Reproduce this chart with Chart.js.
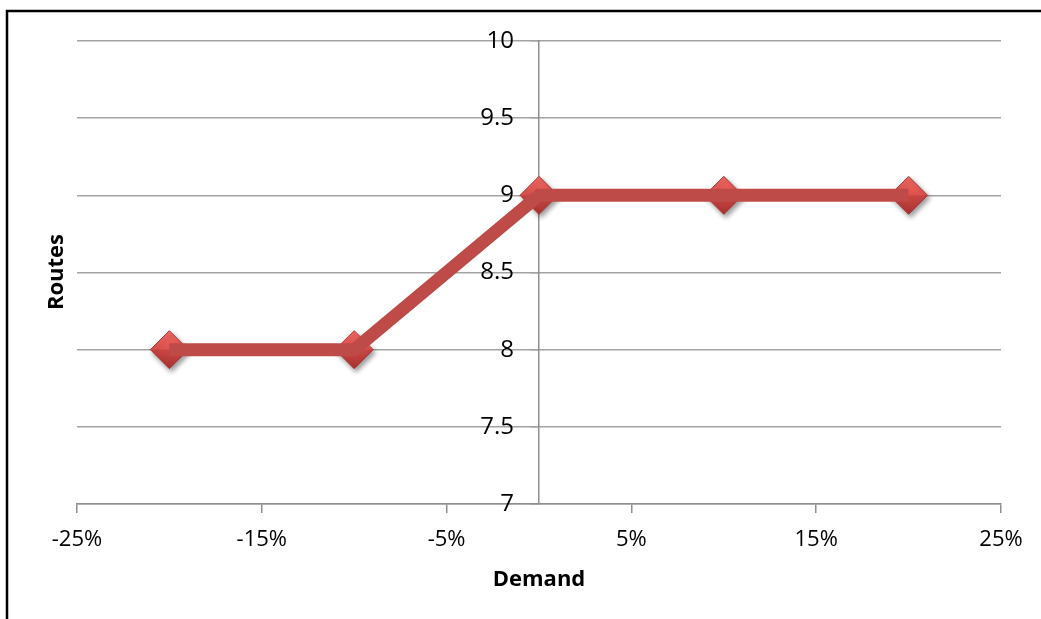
<!DOCTYPE html>
<html>
<head>
<meta charset="utf-8">
<script src="https://cdn.jsdelivr.net/npm/chart.js@4/dist/chart.umd.min.js"></script>
<style>
  html, body { margin: 0; padding: 0; background: #fff; overflow: hidden; }
  canvas { display: block; }
</style>
</head>
<body>
<canvas id="c" width="1041" height="619"></canvas>
<script>
// Demand change (%) against number of routes
const demandPct = [-20, -10, 0, 10, 20];
const routes = [8, 8, 9, 9, 9];
const xTickValues = [-25, -15, -5, 5, 15, 25];
const yTickValues = [7, 7.5, 8, 8.5, 9, 9.5, 10];
const xTitle = 'Demand';
const yTitle = 'Routes';

const points = demandPct.map((x, i) => ({ x: x, y: routes[i] }));

const GRID = '#a3a3a3';
const AXIS = '#8f8f8f';
const FONT = '"Open Sans", "DejaVu Sans", sans-serif';

// Diamond marker fill: lit upper half, shaded lower half
function markerFill(ctx) {
  const chart = ctx.chart;
  const fallback = '#C9504C';
  if (!ctx.raw || !chart.scales || !chart.scales.y) return fallback;
  const py = chart.scales.y.getPixelForValue(ctx.raw.y);
  if (!Number.isFinite(py)) return fallback;
  const g = chart.ctx.createLinearGradient(0, py - 19, 0, py + 19);
  g.addColorStop(0, '#F66A64');
  g.addColorStop(0.48, '#DE524E');
  g.addColorStop(0.52, '#C84542');
  g.addColorStop(1, '#A93431');
  return g;
}

const framePlugin = {
  id: 'frame',
  beforeDraw(chart) {
    const c = chart.ctx;
    c.save();
    c.fillStyle = '#ffffff';
    c.fillRect(0, 0, chart.width, chart.height);
    c.strokeStyle = '#000000';
    c.lineWidth = 2.5;
    c.beginPath();
    c.moveTo(7, chart.height + 5);
    c.lineTo(7, 11);
    c.lineTo(chart.width + 5, 11);
    c.stroke();
    c.restore();
  },
  afterDraw(chart) {
    const c = chart.ctx;
    c.save();
    c.translate(57, 272);
    c.rotate(-Math.PI / 2);
    c.font = 'bold 22px ' + FONT;
    c.fillStyle = '#000';
    c.textAlign = 'center';
    c.textBaseline = 'middle';
    c.fillText(yTitle, 0, 0);
    c.restore();
  }
};

const shadowPlugin = {
  id: 'markerShadow',
  beforeDatasetDraw(chart, args) {
    if (args.index !== 1) return;
    const c = chart.ctx;
    c.save();
    c.shadowColor = 'rgba(0,0,0,0.4)';
    c.shadowBlur = 5;
    c.shadowOffsetX = 2;
    c.shadowOffsetY = 3;
  },
  afterDatasetDraw(chart, args) {
    if (args.index !== 1) return;
    chart.ctx.restore();
  }
};

new Chart(document.getElementById('c'), {
  type: 'scatter',
  data: {
    datasets: [
      {
        data: points,
        showLine: true,
        borderColor: '#BE4B48',
        borderWidth: 13,
        pointRadius: 0,
        pointHoverRadius: 0,
        fill: false,
        tension: 0
      },
      {
        data: points,
        showLine: false,
        pointStyle: 'rectRot',
        pointRadius: 19,
        pointHoverRadius: 19,
        backgroundColor: markerFill,
        borderColor: '#A93835',
        borderWidth: 1,
        clip: false
      }
    ]
  },
  options: {
    responsive: false,
    animation: false,
    events: [],
    layout: { padding: { left: 77, right: 40, top: 41, bottom: 0 } },
    plugins: {
      legend: { display: false },
      tooltip: { enabled: false },
      title: { display: false }
    },
    scales: {
      x: {
        type: 'linear',
        position: 'bottom',
        min: -25,
        max: 25,
        afterBuildTicks(scale) {
          scale.ticks = xTickValues.map(v => ({ value: v }));
        },
        afterFit(scale) { scale.height = 115; },
        ticks: {
          color: '#000',
          font: { family: FONT, size: 22 },
          padding: 14,
          maxRotation: 0,
          autoSkip: false,
          callback: v => v + '%'
        },
        grid: {
          drawOnChartArea: false,
          drawTicks: true,
          tickLength: 9,
          color: AXIS,
          lineWidth: 1.5
        },
        border: { display: true, color: AXIS, width: 1.5 },
        title: {
          display: true,
          text: xTitle,
          color: '#000',
          font: { family: FONT, size: 22, weight: 'bold' },
          padding: { top: 0, bottom: 26 }
        }
      },
      y: {
        type: 'linear',
        position: 'center',
        min: 7,
        max: 10,
        afterBuildTicks(scale) {
          scale.ticks = yTickValues.map(v => ({ value: v }));
        },
        afterFit(scale) { scale.width = 0; },
        ticks: {
          color: '#000',
          font: { family: FONT, size: 24 },
          padding: 17,
          autoSkip: false,
          callback: v => String(v)
        },
        grid: {
          drawOnChartArea: true,
          drawTicks: true,
          tickLength: 8,
          color: GRID,
          lineWidth: 1.5
        },
        border: { display: true, color: AXIS, width: 1.5 }
      }
    }
  },
  plugins: [framePlugin, shadowPlugin]
});
</script>
</body>
</html>
